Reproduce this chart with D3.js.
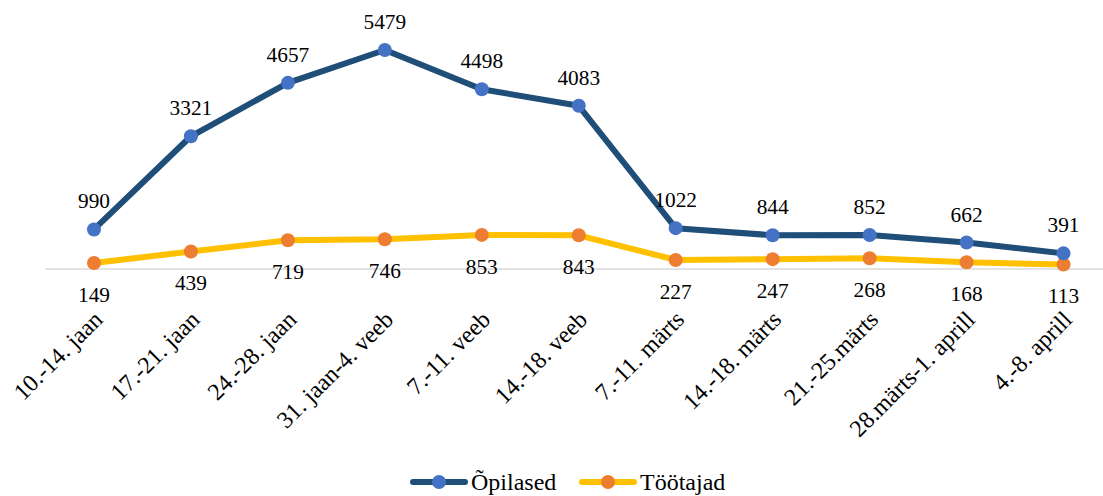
<!DOCTYPE html>
<html><head><meta charset="utf-8">
<script src="https://cdn.jsdelivr.net/npm/d3@7/dist/d3.min.js"></script>
<style>body{margin:0;background:#fff;} svg{display:block;font-family:"Liberation Serif","Times New Roman",serif;}</style>
</head><body><svg id="c" width="1103" height="496"></svg>
<script>
const categories = ["10.-14. jaan","17.-21. jaan","24.-28. jaan","31. jaan-4. veeb","7.-11. veeb","14.-18. veeb","7.-11. märts","14.-18. märts","21.-25.märts","28.märts-1. aprill","4.-8. aprill"];
const opilased = [990,3321,4657,5479,4498,4083,1022,844,852,662,391];
const tootajad = [149,439,719,746,853,843,227,247,268,168,113];
const seriesNames = ["Õpilased","Töötajad"];

const svg = d3.select("#c");
const x = d3.scaleBand().domain(categories).range([45.5, 1112]);
const y = d3.scaleLinear().domain([0, 5479]).range([269, 50]);
const cx = d => x(d) + x.bandwidth()/2;

svg.append("line").attr("x1",45.5).attr("x2",1103).attr("y1",y(0)).attr("y2",y(0))
  .attr("stroke","#D9D9D9").attr("stroke-width",1.5);

const series = [
  {name: seriesNames[0], vals: opilased, line:"#1F4E79", mark:"#4472C4", above:true},
  {name: seriesNames[1], vals: tootajad, line:"#FFC000", mark:"#ED7D31", above:false}
];
const lineGen = d3.line().x(d=>cx(d.c)).y(d=>y(d.v));
series.slice().reverse().forEach(s=>{
  const pts = categories.map((c,i)=>({c, v:s.vals[i]}));
  svg.append("path").datum(pts).attr("d",lineGen).attr("fill","none")
    .attr("stroke",s.line).attr("stroke-width",6).attr("stroke-linejoin","round").attr("stroke-linecap","round");
  svg.selectAll(null).data(pts).enter().append("circle")
    .attr("cx",d=>cx(d.c)).attr("cy",d=>y(d.v)).attr("r",7).attr("fill",s.mark);
});
series.forEach(s=>{
  const pts = categories.map((c,i)=>({c, v:s.vals[i]}));
  svg.selectAll(null).data(pts).enter().append("text")
    .attr("x",d=>cx(d.c)).attr("y",d=>y(d.v) + (s.above ? -21 : 39))
    .attr("text-anchor","middle").attr("font-size",21.33).attr("fill","#000").text(d=>d.v);
});

svg.selectAll(null).data(categories).enter().append("text")
  .attr("transform",d=>`translate(${cx(d)+10},${321}) rotate(-45)`)
  .attr("text-anchor","end").attr("font-size",24).attr("fill","#000").text(d=>d);

const leg = [{x:410}, {x:579}];
series.forEach((s,i)=>{
  const lx = leg[i].x, ly = 482;
  svg.append("line").attr("x1",lx+3).attr("x2",lx+55).attr("y1",ly).attr("y2",ly)
    .attr("stroke",s.line).attr("stroke-width",6).attr("stroke-linecap","round");
  svg.append("circle").attr("cx",lx+29).attr("cy",ly).attr("r",7).attr("fill",s.mark);
  svg.append("text").attr("x",lx+61).attr("y",ly+8).attr("font-size",24).attr("fill","#000").text(s.name);
});
</script></body></html>
